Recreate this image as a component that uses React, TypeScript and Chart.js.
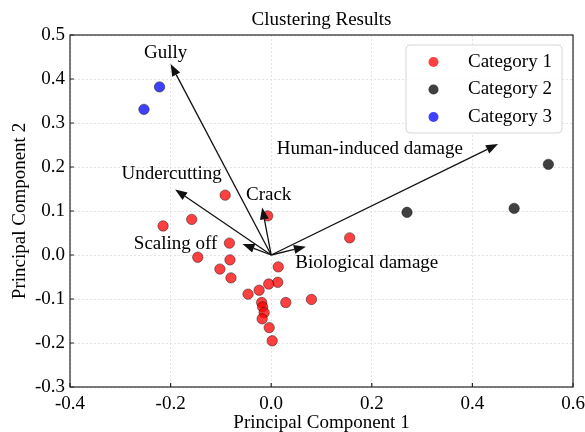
import React, { useEffect, useRef } from 'react';
import { Chart, registerables } from 'chart.js';

Chart.register(...registerables);

const chartTitle = 'Clustering Results';
const xAxisTitle = 'Principal Component 1';
const yAxisTitle = 'Principal Component 2';

const categoryNames = ['Category 1', 'Category 2', 'Category 3'];

const category1X = [-0.0915, -0.007, -0.215, -0.158, -0.083, -0.146, -0.082, -0.102, -0.080, 0.014, 0.013, -0.005, -0.024, -0.046, 0.029, 0.080, -0.019, -0.017, -0.014, -0.018, -0.004, 0.002, 0.156];
const category1Y = [0.136, 0.089, 0.066, 0.081, 0.027, -0.005, -0.011, -0.032, -0.052, -0.027, -0.062, -0.066, -0.080, -0.089, -0.108, -0.101, -0.108, -0.118, -0.131, -0.145, -0.165, -0.195, 0.039];

const category2X = [0.270, 0.483, 0.551];
const category2Y = [0.097, 0.106, 0.206];

const category3X = [-0.222, -0.253];
const category3Y = [0.382, 0.331];

const loadingNames = ['Gully', 'Human-induced damage', 'Undercutting', 'Crack', 'Scaling off', 'Biological damage'];
const loadingX = [-0.200, 0.451, -0.191, -0.018, -0.057, 0.069];
const loadingY = [0.434, 0.252, 0.149, 0.108, 0.025, 0.019];
const loadingLabelX = [-0.210, 0.196, -0.198, -0.005, -0.190, 0.190];
const loadingLabelY = [0.459, 0.240, 0.184, 0.136, 0.025, -0.018];

const xTickValues = [-0.4, -0.2, 0.0, 0.2, 0.4, 0.6];
const yTickValues = [-0.3, -0.2, -0.1, 0.0, 0.1, 0.2, 0.3, 0.4, 0.5];

const pointFills = ['rgba(255,0,0,0.75)', 'rgba(0,0,0,0.75)', 'rgba(0,0,255,0.75)'];

const FONT = '"Liberation Serif", "Times New Roman", serif';

const toPoints = (xs: number[], ys: number[]) => xs.map((v, i) => ({ x: v, y: ys[i] }));
const fmt = (v: number) => (Math.abs(v) < 1e-9 ? '0.0' : Number(v).toFixed(1));

const overlayPlugin = {
  id: 'overlay',
  afterDatasetsDraw(chart: any) {
    const { ctx, chartArea: a, scales } = chart;
    const x = scales.x;
    const y = scales.y;
    ctx.save();
    // loading vectors
    const ox = x.getPixelForValue(0);
    const oy = y.getPixelForValue(0);
    ctx.strokeStyle = '#111';
    ctx.fillStyle = '#111';
    ctx.lineWidth = 1.3;
    loadingX.forEach((lx, i) => {
      const tx = x.getPixelForValue(lx);
      const ty = y.getPixelForValue(loadingY[i]);
      const ang = Math.atan2(ty - oy, tx - ox);
      const hl = 12;
      const hw = 4.5;
      const bx = tx - hl * Math.cos(ang);
      const by = ty - hl * Math.sin(ang);
      ctx.beginPath();
      ctx.moveTo(ox, oy);
      ctx.lineTo(bx, by);
      ctx.stroke();
      ctx.beginPath();
      ctx.moveTo(tx, ty);
      ctx.lineTo(bx + hw * Math.sin(ang), by - hw * Math.cos(ang));
      ctx.lineTo(bx - hw * Math.sin(ang), by + hw * Math.cos(ang));
      ctx.closePath();
      ctx.fill();
    });
    ctx.fillStyle = '#000';
    ctx.font = `19px ${FONT}`;
    ctx.textAlign = 'center';
    ctx.textBaseline = 'middle';
    loadingNames.forEach((name, i) => {
      ctx.fillText(name, x.getPixelForValue(loadingLabelX[i]), y.getPixelForValue(loadingLabelY[i]));
    });
    // title, centred over the plot area
    ctx.fillText(chartTitle, (a.left + a.right) / 2, 20);
    // frame
    ctx.strokeStyle = '#262626';
    ctx.lineWidth = 1.2;
    ctx.strokeRect(a.left, a.top, a.right - a.left, a.bottom - a.top);
    // inward ticks
    ctx.beginPath();
    xTickValues.forEach((v) => {
      const px = x.getPixelForValue(v);
      ctx.moveTo(px, a.bottom);
      ctx.lineTo(px, a.bottom - 4);
    });
    yTickValues.forEach((v) => {
      const py = y.getPixelForValue(v);
      ctx.moveTo(a.left, py);
      ctx.lineTo(a.left + 4, py);
    });
    ctx.stroke();
    // legend
    const lx = 406, ly = 45, lw = 156, lh = 88, r = 4;
    ctx.beginPath();
    ctx.moveTo(lx + r, ly);
    ctx.lineTo(lx + lw - r, ly);
    ctx.arcTo(lx + lw, ly, lx + lw, ly + r, r);
    ctx.lineTo(lx + lw, ly + lh - r);
    ctx.arcTo(lx + lw, ly + lh, lx + lw - r, ly + lh, r);
    ctx.lineTo(lx + r, ly + lh);
    ctx.arcTo(lx, ly + lh, lx, ly + lh - r, r);
    ctx.lineTo(lx, ly + r);
    ctx.arcTo(lx, ly, lx + r, ly, r);
    ctx.closePath();
    ctx.fillStyle = 'rgba(255,255,255,0.85)';
    ctx.fill();
    ctx.strokeStyle = '#d6d6d6';
    ctx.lineWidth = 1;
    ctx.stroke();
    ctx.textAlign = 'left';
    chart.data.datasets.forEach((ds: any, i: number) => {
      const cy = ly + 17 + i * 27.5;
      ctx.beginPath();
      ctx.arc(lx + 27.5, cy, 5, 0, Math.PI * 2);
      ctx.fillStyle = ds.backgroundColor;
      ctx.fill();
      ctx.fillStyle = '#000';
      ctx.fillText(ds.label, lx + 62, cy);
    });
    ctx.restore();
  },
};

export default function App() {
  const canvasRef = useRef<HTMLCanvasElement | null>(null);

  useEffect(() => {
    document.body.style.margin = '0';
    const canvas = canvasRef.current;
    if (!canvas) return;
    const datasets = [
      toPoints(category1X, category1Y),
      toPoints(category2X, category2Y),
      toPoints(category3X, category3Y),
    ].map((data, i) => ({
      label: categoryNames[i],
      data,
      backgroundColor: pointFills[i],
      borderColor: 'rgba(0,0,0,0.55)',
      borderWidth: 0.8,
      pointRadius: 5.2,
    }));

    const chart = new Chart(canvas, {
      type: 'scatter',
      data: { datasets },
      plugins: [overlayPlugin],
      options: {
        responsive: false,
        animation: false,
        devicePixelRatio: 1,
        layout: { padding: { left: 0, right: 12, top: 35, bottom: 0 } },
        plugins: {
          legend: { display: false },
          tooltip: { enabled: false },
          title: { display: false },
        },
        scales: {
          x: {
            type: 'linear',
            min: -0.4,
            max: 0.6,
            afterFit: (s: any) => {
              s.height = 45;
              s.paddingLeft = 0;
              s.paddingRight = 0;
            },
            afterBuildTicks: (s: any) => {
              s.ticks = xTickValues.map((v) => ({ value: v }));
            },
            ticks: {
              color: '#000',
              padding: 6,
              maxRotation: 0,
              autoSkip: false,
              font: { family: FONT, size: 19 },
              callback: (v: any) => fmt(Number(v)),
            },
            grid: { color: '#dcdcdc', lineWidth: 0.8, drawTicks: false },
            border: { display: false, dash: [2, 2] },
            title: {
              display: true,
              text: xAxisTitle,
              color: '#000',
              font: { family: FONT, size: 19, lineHeight: 1 },
              padding: { top: 0, bottom: -1 },
            },
          },
          y: {
            type: 'linear',
            min: -0.3,
            max: 0.5,
            afterFit: (s: any) => {
              s.width = 70;
              s.paddingTop = 0;
              s.paddingBottom = 0;
            },
            afterBuildTicks: (s: any) => {
              s.ticks = yTickValues.map((v) => ({ value: v }));
            },
            ticks: {
              color: '#000',
              padding: 5,
              autoSkip: false,
              font: { family: FONT, size: 19 },
              callback: (v: any) => fmt(Number(v)),
            },
            grid: { color: '#dcdcdc', lineWidth: 0.8, drawTicks: false },
            border: { display: false, dash: [2, 2] },
            title: {
              display: true,
              text: yAxisTitle,
              color: '#000',
              font: { family: FONT, size: 19, lineHeight: 1 },
              padding: { top: 10.5, bottom: 0 },
            },
          },
        },
      },
    } as any);

    return () => {
      chart.destroy();
    };
  }, []);

  return (
    <div style={{ width: 585, height: 432 }}>
      <canvas ref={canvasRef} width={585} height={432} style={{ display: 'block', width: 585, height: 432 }} />
    </div>
  );
}
